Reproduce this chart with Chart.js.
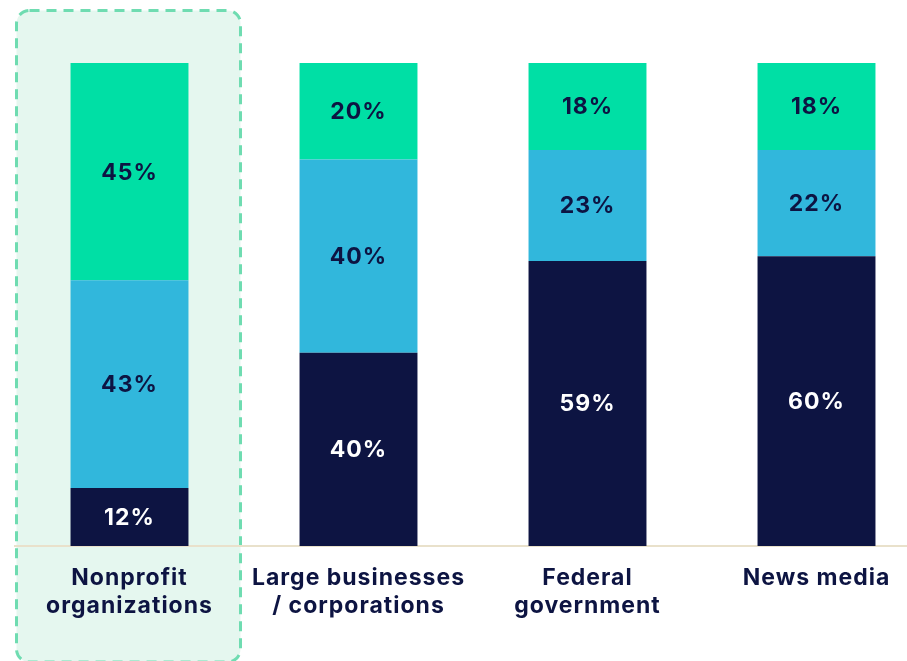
<!DOCTYPE html>
<html>
<head>
<meta charset="utf-8">
<script src="https://cdn.jsdelivr.net/npm/chart.js@4/dist/chart.umd.min.js"></script>
<style>
  html, body { margin: 0; padding: 0; background: #ffffff; overflow: hidden; }
  #wrap { width: 907px; height: 661px; overflow: hidden; position: relative; }
  canvas { display: block; }
</style>
</head>
<body>
<div id="wrap"><canvas id="chart" width="946" height="661"></canvas></div>
<script>
// Share of responses per institution (stacked to 100%)
const categories = [
  ['Nonprofit', 'organizations'],
  ['Large businesses', '/ corporations'],
  ['Federal', 'government'],
  ['News media']
];
const bottomShare = [12, 40, 59, 60];
const middleShare = [43, 40, 23, 22];
const topShare    = [45, 20, 18, 18];

const NAVY = '#0D1442';
const BLUE = '#31B7DC';
const GREEN = '#00DFA5';
const FONT = 'Inter, "Open Sans", sans-serif';

// Slightly open tracking for all canvas text
const tracking = {
  id: 'tracking',
  beforeInit(chart) { chart.ctx.letterSpacing = '1px'; },
  beforeDraw(chart) { chart.ctx.letterSpacing = '1px'; }
};

// Highlighted column (first category) drawn behind the bars
const highlightColumn = {
  id: 'highlightColumn',
  beforeDraw(chart) {
    const { ctx, scales: { x } } = chart;
    const cx = x.getPixelForValue(0) - 1;
    const half = 112;
    const left = cx - half, right = cx + half;
    const top = 10.5, bottom = 662;
    ctx.save();
    ctx.beginPath();
    ctx.roundRect(left, top, right - left, bottom - top, 13);
    ctx.fillStyle = '#E5F7EF';
    ctx.fill();
    ctx.setLineDash([10, 7]);
    ctx.lineWidth = 3;
    ctx.strokeStyle = '#6FDCB1';
    ctx.stroke();
    ctx.restore();
  }
};

// Percentage labels centred in each stacked segment
const segmentLabels = {
  id: 'segmentLabels',
  afterDatasetsDraw(chart) {
    const { ctx } = chart;
    ctx.save();
    ctx.letterSpacing = '1px';
    ctx.font = '700 23px ' + FONT;
    ctx.textAlign = 'center';
    ctx.textBaseline = 'middle';
    chart.data.datasets.forEach((ds, di) => {
      const meta = chart.getDatasetMeta(di);
      meta.data.forEach((bar, i) => {
        const p = bar.getCenterPoint();
        ctx.fillStyle = ds.labelColor;
        ctx.fillText(ds.data[i] + '%', p.x, p.y + 1);
      });
    });
    ctx.restore();
  }
};

new Chart(document.getElementById('chart'), {
  type: 'bar',
  data: {
    labels: categories,
    datasets: [
      { data: bottomShare, backgroundColor: NAVY, labelColor: '#FFFFFF' },
      { data: middleShare, backgroundColor: BLUE, labelColor: NAVY },
      { data: topShare, backgroundColor: GREEN, labelColor: NAVY }
    ]
  },
  options: {
    responsive: false,
    animation: false,
    devicePixelRatio: 1,
    categoryPercentage: 1,
    barPercentage: 0.515,
    borderSkipped: false,
    layout: { padding: { left: 15, right: 15, top: 63, bottom: 23 } },
    plugins: {
      legend: { display: false },
      tooltip: { enabled: false }
    },
    scales: {
      x: {
        stacked: true,
        grid: { display: false, drawTicks: false },
        border: { display: true, color: '#E9E1CB', width: 2 },
        ticks: {
          color: NAVY,
          padding: 18,
          maxRotation: 0,
          autoSkip: false,
          font: { family: FONT, size: 23, weight: '700', lineHeight: 1.217 }
        }
      },
      y: {
        stacked: true,
        display: false,
        min: 0,
        max: 100
      }
    }
  },
  plugins: [tracking, highlightColumn, segmentLabels]
});
</script>
</body>
</html>
